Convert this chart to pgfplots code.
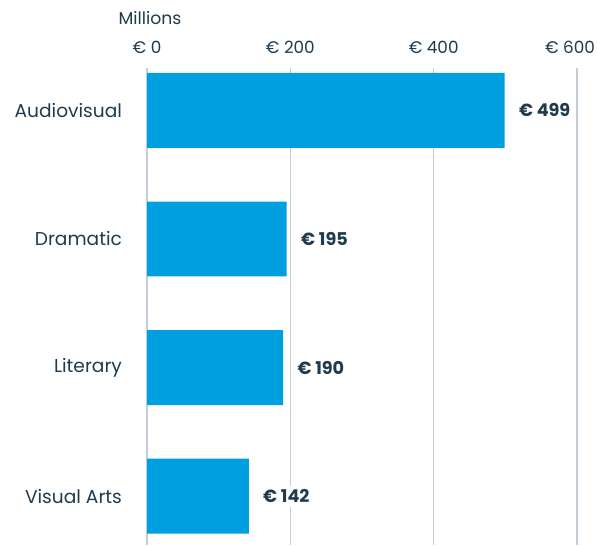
\documentclass[border=0pt]{standalone}
\usepackage{fontspec}
\setmainfont{Poppins}
\usepackage{pgfplots}
\pgfplotsset{compat=1.18}
\definecolor{barblue}{HTML}{009FDF}
\definecolor{txt}{HTML}{1F3B4D}
\definecolor{gridc}{HTML}{C5CED6}
\begin{document}
\begin{tikzpicture}[x=1pt,y=1pt]
\useasboundingbox (0,0) rectangle (299,272.5);
\begin{axis}[at={(73.5pt,0pt)}, anchor=south west, scale only axis,
  width=215pt, height=238.5pt,
  xmin=0, xmax=600, ymin=-0.33, ymax=3.38, y dir=reverse,
  xbar, bar width=0.583, bar shift=0pt,
  /pgf/number format/assume math mode=true,
  xtick={0,200,400}, xticklabels={€ 0,€ 200,€ 400}, xticklabel pos=upper,
  extra x ticks={600}, extra x tick labels={€ 600},
  extra x tick style={grid=major, xticklabel style={xshift=-3.5pt}},
  ytick={0,1,2,3}, yticklabels={Audiovisual,Dramatic,Literary,Visual Arts},
  xmajorgrids, major grid style={gridc, line width=0.6pt},
  axis line style={draw=none}, major tick length=0pt,
  xticklabel style={yshift=3.5pt, font=\fontsize{8.4}{10}\selectfont, text=txt},
  yticklabel style={xshift=-9pt, font=\fontsize{9.3}{10}\selectfont, text=txt},
  nodes near coords={€ \pgfmathprintnumber{\pgfplotspointmeta}},
  point meta=x,
  nodes near coords style={anchor=west, xshift=5pt, fill=white, inner sep=2pt,
    font=\fontsize{8.8}{10}\selectfont\bfseries, text=txt},
  clip=false,
]
\addplot[fill=barblue, draw=none] coordinates {(499,0) (195,1) (190,2) (142,3)};
\end{axis}
\node[font=\fontsize{8.6}{10}\selectfont, text=txt] at (75,263.5) {Millions};
\end{tikzpicture}
\end{document}
